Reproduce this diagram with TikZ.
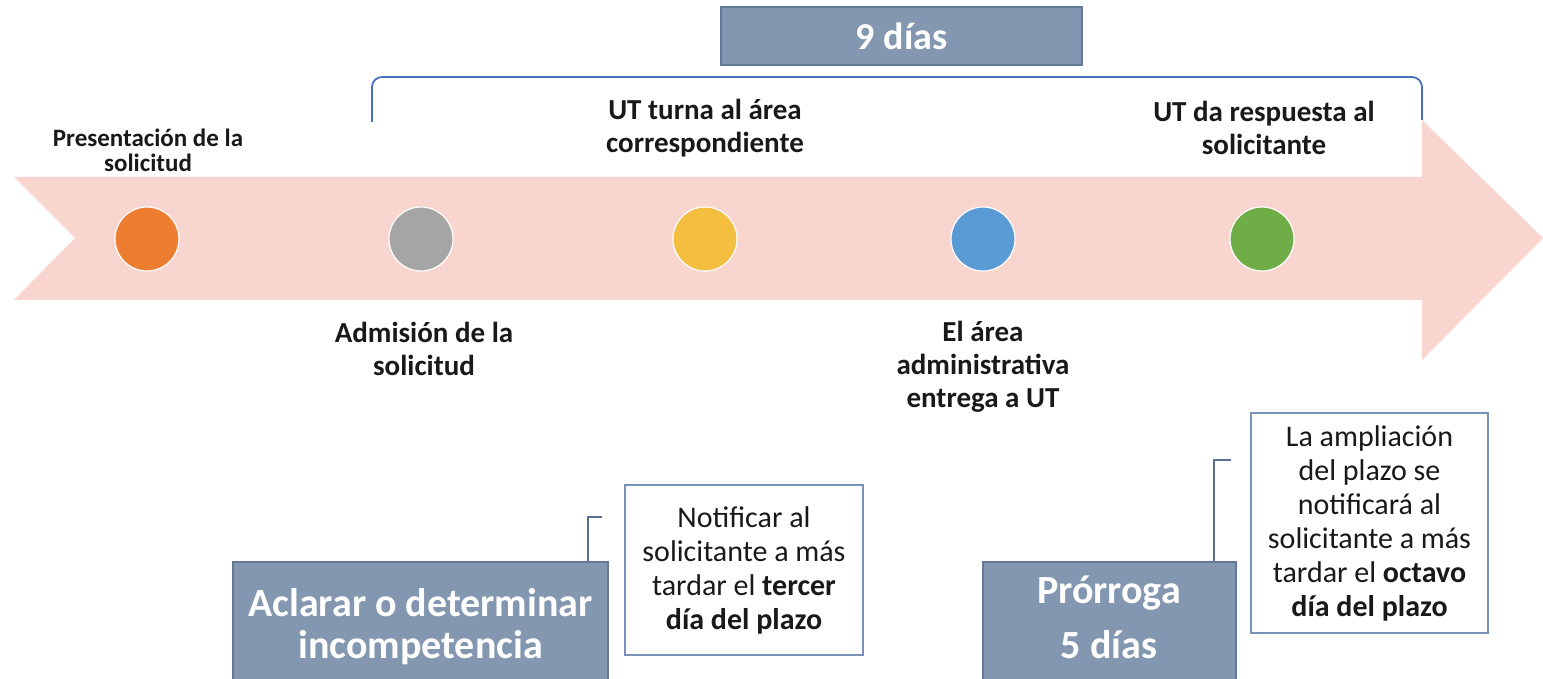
\documentclass[tikz,border=0pt]{standalone}
\usepackage{fontspec}
\setmainfont{Carlito}
\usepackage{tikz}
\usepackage{xcolor}
\definecolor{arrowpink}{RGB}{248,213,207}
\definecolor{boxfill}{RGB}{132,151,176}
\definecolor{boxedge}{RGB}{98,122,152}
\definecolor{noteedge}{RGB}{120,145,185}
\definecolor{calloutline}{RGB}{88,112,148}
\definecolor{bracketblue}{RGB}{72,112,190}
\definecolor{txtdark}{RGB}{25,25,25}
\definecolor{dotorange}{RGB}{237,125,49}
\definecolor{dotgrey}{RGB}{165,165,165}
\definecolor{dotyellow}{RGB}{244,190,62}
\definecolor{dotblue}{RGB}{91,155,213}
\definecolor{dotgreen}{RGB}{112,173,71}

\begin{document}
\begin{tikzpicture}[x=1pt,y=-1pt]
\tikzstyle{every node}+=[inner sep=0pt]
\tikzstyle{dot}=[circle, minimum size=64pt, draw=white, line width=1.2pt]
\tikzstyle{lbl}=[align=center, text=txtdark, font=\fontsize{29}{33}\selectfont\bfseries]
\tikzstyle{greybox}=[draw=boxedge, fill=boxfill, line width=1.5pt, text=white, align=center]
\tikzstyle{notebox}=[draw=noteedge, fill=white, line width=1.5pt, text=txtdark, align=center, font=\fontsize{30}{34}\selectfont]
\tikzstyle{callout}=[draw=calloutline, line width=2pt]
\clip (0,0) rectangle (1543,679);
\fill [white] (0,0) rectangle (1543,679);
\fill [arrowpink] (14,177) -- (1422,177) -- (1422,120) -- (1543,238) -- (1422,360) -- (1422,300) -- (14,300) -- (75,238) -- cycle;
\node [dot, fill=dotorange] (pres) at (147,239) {};
\node [dot, fill=dotgrey] (adm) at (421,239) {};
\node [dot, fill=dotyellow] (turn) at (705,239) {};
\node [dot, fill=dotblue] (entr) at (983,239) {};
\node [dot, fill=dotgreen] (resp) at (1262,239) {};
\node [lbl, font=\fontsize{25}{25}\selectfont\bfseries] (presl) at (148,150) {Presentación de la\\solicitud};
\node [lbl] (turnl) at (705,128) {UT turna al área\\correspondiente};
\node [lbl] (respl) at (1264,128) {UT da respuesta al\\solicitante};
\node [lbl] (adml) at (424,349) {Admisión de la\\solicitud};
\node [lbl] (entrl) at (983,367) {El área\\administrativa\\entrega a UT};
\node [greybox, minimum width=361pt, minimum height=58pt, font=\fontsize{38}{40}\selectfont\bfseries] (dias) at (901.5,36) {9 días};
\coordinate (brL) at (372,122);
\coordinate (brR) at (1422,120);
\draw [draw=bracketblue, line width=1.8pt, rounded corners=10pt] (brL) -- (372,77) -- (1422,77) -- (brR);
\node [greybox, minimum width=375pt, minimum height=130pt, font=\fontsize{40}{42}\selectfont\bfseries] (acl) at (420.5,627) {Aclarar o determinar\\incompetencia};
\node [greybox, minimum width=253pt, minimum height=130pt] (pro) at (1109.5,627) {};
\node [text=white, align=center, font=\fontsize{40}{55}\selectfont\bfseries] (prol) at (1109,617) {Prórroga\\5 días};
\node [notebox, minimum width=238pt, minimum height=170pt] (notl) at (744,570) {Notificar al\\solicitante a más\\tardar el \textbf{tercer}\\\textbf{día del plazo}};
\node [notebox, minimum width=237pt, minimum height=220pt] (notr) at (1369.5,523) {La ampliación\\del plazo se\\notificará al\\solicitante a más\\tardar el \textbf{octavo}\\\textbf{día del plazo}};
\draw [callout] ([xshift=-21pt]acl.north east) |- ([xshift=-22pt,yshift=53pt]notl.west);
\draw [callout] ([xshift=-23pt]pro.north east) |- ([xshift=-19pt,yshift=63pt]notr.west);
\end{tikzpicture}
\end{document}
